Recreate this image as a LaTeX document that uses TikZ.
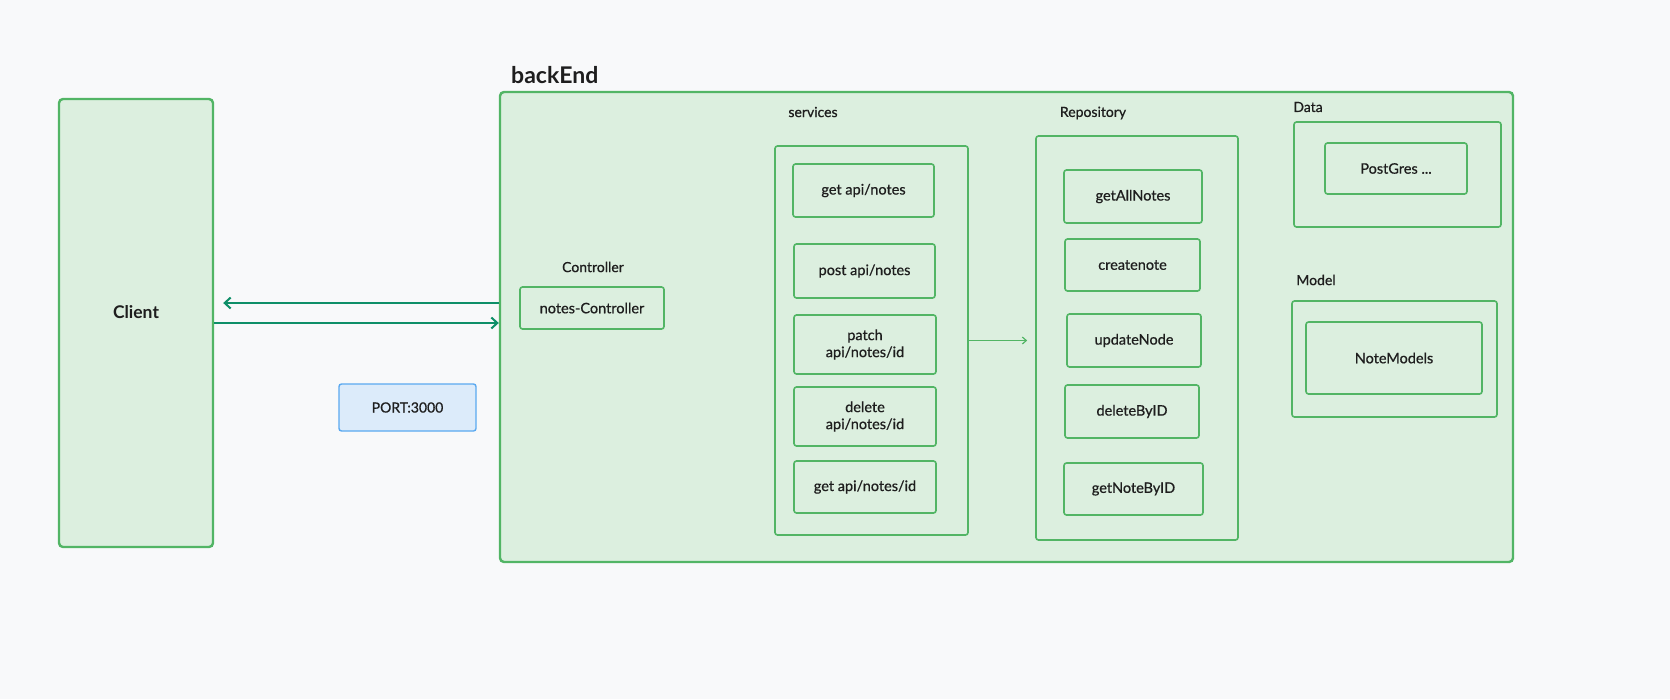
\documentclass[tikz,border=0pt]{standalone}
\usepackage{fontspec}
\setmainfont{Lato}
\newfontfamily\labelfont[FakeBold=0.7]{Lato}
\usetikzlibrary{arrows.meta,calc}

\definecolor{bgc}{HTML}{F8F9FA}
\definecolor{gfill}{HTML}{DCEFDF}
\definecolor{gline}{HTML}{52B565}
\definecolor{flowc}{HTML}{0E8F68}
\definecolor{bfill}{HTML}{DCEBFA}
\definecolor{bline}{HTML}{5AA9F0}
\definecolor{ink}{HTML}{1E1E1E}

\tikzset{
  gbox/.style={draw=gline, fill=gfill, line width=1.6pt, rounded corners=2.5pt,
    inner sep=0pt, text=ink, font=\labelfont\fontsize{14.5}{17}\selectfont, align=center},
  outerbox/.style={gbox, line width=2.4pt, rounded corners=4pt},
  pbox/.style={draw=bline, fill=bfill, line width=1.4pt, rounded corners=2.5pt,
    inner sep=0pt, text=ink, font=\labelfont\fontsize{14}{16}\selectfont},
  caption/.style={text=ink, font=\labelfont\fontsize{14}{17}\selectfont, inner sep=0pt},
  flow/.style={draw=flowc, line width=2pt, -{Straight Barb[length=6pt,width=11pt,line width=2pt]}},
  thin flow/.style={draw=gline, line width=1.2pt, -{Straight Barb[length=4pt,width=7pt]}},
}

\begin{document}
\begin{tikzpicture}[x=1pt, y=-1pt]
\useasboundingbox[fill=bgc] (0,0) rectangle (1670,699);

% client side
\node[outerbox, minimum width=154pt, minimum height=448pt] (client) at (136,323) {};
\node[caption, font=\fontsize{17.5}{20}\selectfont\bfseries] (clientlbl) at (136,312) {Client};
\node[pbox, minimum width=137pt, minimum height=47pt] (port) at (407.5,407.5) {PORT:3000};

% backend frame
\node[outerbox, minimum width=1013pt, minimum height=470pt] (backend) at (1006.5,327) {};
\node[caption, anchor=base west, font=\fontsize{23}{27}\selectfont\bfseries] (backlbl) at (511,83) {backEnd};

% controller
\node[caption] (ctrllbl) at (593,267) {Controller};
\node[gbox, minimum width=144pt, minimum height=42pt] (ctrl) at (592,308) {notes-Controller};

% services
\node[caption] (svclbl) at (813,112) {services};
\node[gbox, minimum width=193pt, minimum height=389pt] (svc) at (871.5,340.5) {};
\node[gbox, minimum width=141pt, minimum height=53pt] (s1) at (863.5,190.5) {get api/notes};
\node[gbox, minimum width=141pt, minimum height=54pt] (s2) at (864.5,271) {post api/notes};
\node[gbox, minimum width=142pt, minimum height=59pt] (s3) at (865,344.5) {patch\\api/notes/id};
\node[gbox, minimum width=142pt, minimum height=59pt] (s4) at (865,416.5) {delete\\api/notes/id};
\node[gbox, minimum width=142pt, minimum height=52pt] (s5) at (865,487) {get api/notes/id};

% repository
\node[caption] (repolbl) at (1093,113) {Repository};
\node[gbox, minimum width=202pt, minimum height=404pt] (repo) at (1137,338) {};
\node[gbox, minimum width=138pt, minimum height=53pt] (r1) at (1133,196.5) {getAllNotes};
\node[gbox, minimum width=135pt, minimum height=52pt] (r2) at (1132.5,265) {createnote};
\node[gbox, minimum width=134pt, minimum height=53pt] (r3) at (1134,340.5) {updateNode};
\node[gbox, minimum width=134pt, minimum height=53pt] (r4) at (1132,411.5) {deleteByID};
\node[gbox, minimum width=139pt, minimum height=52pt] (r5) at (1133.5,489) {getNoteByID};

% data
\node[caption] (datalbl) at (1308,107) {Data};
\node[gbox, minimum width=207pt, minimum height=105pt] (data) at (1397.5,174.5) {};
\node[gbox, minimum width=142pt, minimum height=51pt] (pg) at (1396,168.5) {PostGres ...};

% model
\node[caption] (modellbl) at (1316,280) {Model};
\node[gbox, minimum width=205pt, minimum height=116pt] (model) at (1394.5,359) {};
\node[gbox, minimum width=176pt, minimum height=72pt] (nm) at (1394,358) {NoteModels};

% connectors
\coordinate (up) at ([yshift=20pt]client.east);
\draw[flow] (up -| backend.west) -- ([xshift=9pt]up);
\draw[flow] (client.east) -- (client.east -| backend.west);
\draw[thin flow] (svc.east) -- ([xshift=-8pt]repo.west |- svc.east);
\end{tikzpicture}
\end{document}
